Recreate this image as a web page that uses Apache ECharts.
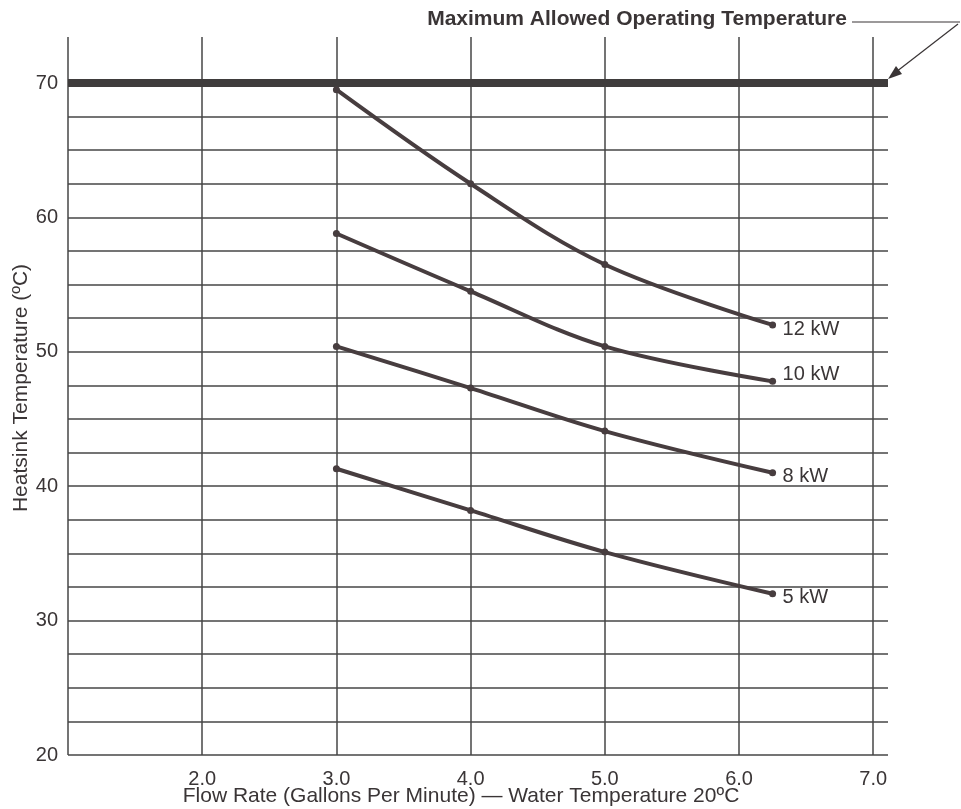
<!DOCTYPE html>
<html>
<head>
<meta charset="utf-8">
<script src="https://cdn.jsdelivr.net/npm/echarts@6/dist/echarts.min.js"></script>
<style>
  html, body { margin: 0; padding: 0; background: #fff; }
  #main { width: 961px; height: 809px; }
</style>
</head>
<body>
<div id="main"></div>
<script>
// data
const flowRates = [3.0, 4.0, 5.0, 6.25];
const names = ['12 kW', '10 kW', '8 kW', '5 kW'];
const temp12kW = [69.5, 62.5, 56.5, 52.0];
const temp10kW = [58.8, 54.5, 50.4, 47.8];
const temp8kW = [50.4, 47.3, 44.1, 41.0];
const temp5kW = [41.3, 38.2, 35.1, 32.0];
const maxTemp = 70;
const xTicks = ['2.0', '3.0', '4.0', '5.0', '6.0', '7.0'];
const yTicks = [20, 30, 40, 50, 60, 70];

const font = "'Liberation Sans', Arial, sans-serif";
const ink = '#3a3536';
const curve = '#473d3f';
const gridCol = '#464646';

// label offsets so the text sits like in the picture
const labelShift = [5, -7, 4, 4];

const tempSets = [temp12kW, temp10kW, temp8kW, temp5kW];
const curveSeries = tempSets.map((vals, i) => ({
  name: names[i],
  type: 'line',
  xAxisIndex: 0,
  yAxisIndex: 0,
  data: flowRates.map((x, j) => [x, vals[j]]),
  smooth: 0.35,
  symbol: 'circle',
  symbolSize: 7,
  showSymbol: true,
  lineStyle: { color: curve, width: 4 },
  itemStyle: { color: curve },
  endLabel: {
    show: true,
    formatter: names[i],
    color: ink,
    fontFamily: font,
    fontSize: 20,
    distance: 10,
    offset: [0, labelShift[i]],
  },
  z: 5,
}));

const option = {
  animation: false,
  backgroundColor: '#fff',
  grid: [
    { left: 68, right: 73, top: 83, bottom: 54 },
    { left: 68, right: 73, top: 37, bottom: 54 },
  ],
  xAxis: [
    {
      gridIndex: 0,
      type: 'value',
      min: 1,
      max: 7.11,
      interval: 1,
      axisLine: { show: false },
      axisTick: { show: false },
      splitLine: { show: false },
      axisLabel: {
        color: ink,
        fontFamily: font,
        fontSize: 20,
        margin: 14,
        formatter: (v) => (Math.abs(v - Math.round(v)) < 1e-6 && xTicks.includes(v.toFixed(1)) ? v.toFixed(1) : ''),
      },
    },
    {
      gridIndex: 1,
      type: 'value',
      min: 1,
      max: 7.11,
      interval: 1,
      axisLine: { show: false },
      axisTick: { show: false },
      axisLabel: { show: false },
      splitLine: { show: true, showMaxLine: false, lineStyle: { color: gridCol, width: 1.5 } },
    },
  ],
  yAxis: [
    {
      gridIndex: 0,
      type: 'value',
      min: 20,
      max: 70,
      interval: 2.5,
      axisLine: { show: false },
      axisTick: { show: false },
      splitLine: { show: true, lineStyle: { color: gridCol, width: 1.5 } },
      axisLabel: {
        color: ink,
        fontFamily: font,
        fontSize: 20,
        margin: 10,
        formatter: (v) => (yTicks.includes(v) ? String(v) : ''),
      },
    },
    {
      gridIndex: 1,
      type: 'value',
      min: 0,
      max: 1,
      show: false,
    },
  ],
  series: [
    ...curveSeries,
    {
      name: 'max',
      type: 'line',
      xAxisIndex: 0,
      yAxisIndex: 0,
      data: [],
      clip: false,
      markLine: {
        silent: true,
        symbol: 'none',
        label: { show: false },
        lineStyle: { color: '#3f3c3c', width: 8, type: 'solid' },
        data: [{ yAxis: maxTemp }],
      },
      z: 4,
    },
  ],
  graphic: [
    {
      type: 'text',
      x: 637,
      y: 19,
      style: {
        text: 'Maximum Allowed Operating Temperature',
        font: 'bold 21px ' + font,
        fill: ink,
        textAlign: 'center',
        textVerticalAlign: 'middle',
      },
    },
    {
      type: 'polyline',
      shape: { points: [[852, 22], [960, 22]] },
      style: { stroke: ink, lineWidth: 1.2, fill: null },
    },
    {
      type: 'polyline',
      shape: { points: [[958, 24], [896, 72]] },
      style: { stroke: ink, lineWidth: 1.2, fill: null },
    },
    {
      type: 'polygon',
      shape: { points: [[888, 79], [902, 74], [896, 66]] },
      style: { fill: ink },
    },
    {
      type: 'text',
      x: 21,
      y: 388,
      rotation: Math.PI / 2,
      style: {
        text: 'Heatsink Temperature (ºC)',
        font: '21px ' + font,
        fill: ink,
        textAlign: 'center',
        textVerticalAlign: 'middle',
      },
    },
    {
      type: 'text',
      x: 461,
      y: 796,
      style: {
        text: 'Flow Rate (Gallons Per Minute) — Water Temperature 20ºC',
        font: '21px ' + font,
        fill: ink,
        textAlign: 'center',
        textVerticalAlign: 'middle',
      },
    },
  ],
};

const myChart = echarts.init(document.getElementById('main'));
myChart.setOption(option);
</script>
</body>
</html>
